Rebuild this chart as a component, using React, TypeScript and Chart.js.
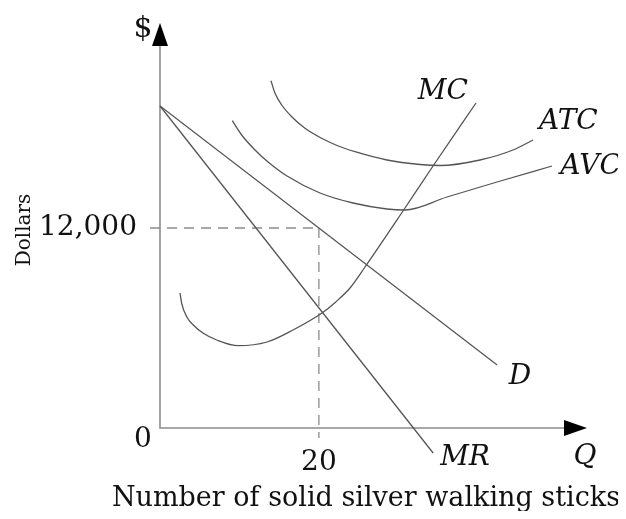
import React, { useEffect, useRef } from "react";
import { Chart, registerables } from "chart.js";

Chart.register(...registerables);

// Quantity (Q) and dollar values
const mcQ = [2.52, 2.73, 3.36, 4.19, 5.45, 7.14, 9.85, 13.47, 16.74, 20.39, 22.16, 23.92, 25.81, 30.84, 34.37, 39.78];
const mcP = [8100, 7482, 6678, 6180, 5682, 5280, 4938, 5160, 5880, 6900, 7580, 8400, 9660, 13200, 15720, 19500];

const atcQ = [13.97, 14.48, 15.32, 16.58, 18.25, 20.35, 22.44, 24.55, 28.57, 32.73, 35.25, 40.28, 44.44, 46.95];
const atcP = [20838, 20082, 19380, 18678, 17982, 17382, 16920, 16578, 16080, 15810, 15750, 16080, 16680, 17280];

const avcQ = [9.1, 10.28, 11.96, 13.6, 15.99, 20.14, 24.3, 28.57, 30.84, 36.13, 42.42, 49.35];
const avcP = [18438, 17580, 16680, 15960, 15120, 14100, 13500, 13140, 13080, 13860, 14760, 15720];

const demandQ = [0, 42.44];
const demandP = [19320, 3780];

const mrQ = [0, 34.38];
const mrP = [19320, -1500];

const xTickValue = 20;
const yTickValue = 12000;
const yTickLabel = "12,000";
const xTickLabel = "20";

const X_MAX = 53.75;
const Y_MAX = 24300;

const SERIF = '"DejaVu Serif", "Liberation Serif", serif';

const toPts = (xs: number[], ys: number[]) => xs.map((x, i) => ({ x, y: ys[i] }));

const curveLabels = [
  { text: "MC", q: 35.6, p: 20160 },
  { text: "ATC", q: 51.4, p: 18360 },
  { text: "AVC", q: 54.2, p: 15660 },
  { text: "D", q: 45.3, p: 3060 },
  { text: "MR", q: 38.4, p: -1800 },
  { text: "Q", q: 53.5, p: -1740 },
];

const diagramPlugin = {
  id: "diagram",
  beforeDatasetsDraw(chart: any) {
    const { ctx, chartArea, scales } = chart;
    const xs = scales.x;
    const ys = scales.y;
    const left = chartArea.left;
    const bottom = chartArea.bottom;
    const top = chartArea.top;
    const right = chartArea.right;
    ctx.save();
    const gx = xs.getPixelForValue(xTickValue);
    const gy = ys.getPixelForValue(yTickValue);
    ctx.strokeStyle = "#8c8c8c";
    ctx.lineWidth = 1.3;
    ctx.setLineDash([10, 7]);
    ctx.beginPath();
    ctx.moveTo(left - 10, gy);
    ctx.lineTo(gx, gy);
    ctx.stroke();
    ctx.beginPath();
    ctx.moveTo(gx, gy);
    ctx.lineTo(gx, bottom + 10);
    ctx.stroke();
    ctx.setLineDash([]);
    ctx.strokeStyle = "#8c8c8c";
    ctx.lineWidth = 1.6;
    ctx.beginPath();
    ctx.moveTo(left, top + 20);
    ctx.lineTo(left, bottom);
    ctx.lineTo(right - 20, bottom);
    ctx.stroke();
    ctx.fillStyle = "#000";
    ctx.beginPath();
    ctx.moveTo(left, top);
    ctx.lineTo(left - 8, top + 23);
    ctx.lineTo(left + 8, top + 23);
    ctx.closePath();
    ctx.fill();
    ctx.beginPath();
    ctx.moveTo(right, bottom);
    ctx.lineTo(right - 23, bottom - 8);
    ctx.lineTo(right - 23, bottom + 8);
    ctx.closePath();
    ctx.fill();
    ctx.restore();
  },
  afterDraw(chart: any) {
    const { ctx, chartArea, scales } = chart;
    const xs = scales.x;
    const ys = scales.y;
    ctx.save();
    ctx.fillStyle = "#111";
    ctx.textBaseline = "middle";
    ctx.textAlign = "center";
    ctx.font = `italic 28px ${SERIF}`;
    curveLabels.forEach((l) => {
      ctx.fillText(l.text, xs.getPixelForValue(l.q), ys.getPixelForValue(l.p));
    });
    ctx.font = `30px ${SERIF}`;
    ctx.fillText("$", chartArea.left - 17, chartArea.top + 6);
    ctx.font = `28px ${SERIF}`;
    ctx.fillText("0", chartArea.left - 17, chartArea.bottom + 12);
    ctx.fillText(xTickLabel, xs.getPixelForValue(xTickValue), chartArea.bottom + 35);
    ctx.textAlign = "right";
    ctx.fillText(yTickLabel, chartArea.left - 23, ys.getPixelForValue(yTickValue));
    ctx.textAlign = "center";
    ctx.font = `27px ${SERIF}`;
    ctx.fillText("Number of solid silver walking sticks", 358, chartArea.bottom + 71);
    ctx.save();
    ctx.translate(17, 222);
    ctx.rotate(-Math.PI / 2);
    ctx.font = `20px ${SERIF}`;
    ctx.fillText("Dollars", 0, 0);
    ctx.restore();
    ctx.restore();
  },
};

export default function App() {
  const ref = useRef<HTMLCanvasElement | null>(null);
  useEffect(() => {
    if (!ref.current) return;
    const lineStyle = {
      showLine: true,
      pointRadius: 0,
      borderColor: "#555",
      borderWidth: 1.3,
      fill: false,
    };
    const chart = new Chart(ref.current, {
      type: "scatter",
      data: {
        datasets: [
          { label: "MC", data: toPts(mcQ, mcP), ...lineStyle, cubicInterpolationMode: "monotone" },
          { label: "ATC", data: toPts(atcQ, atcP), ...lineStyle, cubicInterpolationMode: "monotone" },
          { label: "AVC", data: toPts(avcQ, avcP), ...lineStyle, cubicInterpolationMode: "monotone" },
          { label: "D", data: toPts(demandQ, demandP), ...lineStyle, tension: 0 },
          { label: "MR", data: toPts(mrQ, mrP), ...lineStyle, tension: 0, clip: false },
        ],
      },
      options: {
        responsive: false,
        animation: false,
        layout: { padding: { left: 152, top: 15, right: 31, bottom: 83 } },
        plugins: { legend: { display: false }, tooltip: { enabled: false } },
        scales: {
          x: { type: "linear", min: 0, max: X_MAX, display: false },
          y: { type: "linear", min: 0, max: Y_MAX, display: false },
        },
      },
      plugins: [diagramPlugin],
    });
    return () => chart.destroy();
  }, []);
  return (
    <canvas ref={ref} width={610} height={503} style={{ display: "block", width: 610, height: 503 }} />
  );
}
